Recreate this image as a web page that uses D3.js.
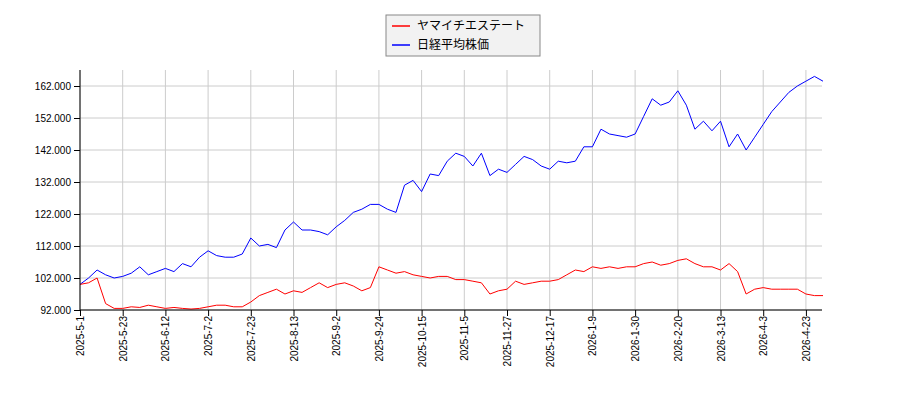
<!DOCTYPE html>
<html><head><meta charset="utf-8">
<script src="https://cdn.jsdelivr.net/npm/d3@7"></script>
<style>body{margin:0;background:#fff}svg{font-family:"DejaVu Sans",sans-serif}</style>
</head><body><svg id="c" width="900" height="400"></svg>
<script>
const tickLabels=["2025-5-1","2025-5-23","2025-6-12","2025-7-2","2025-7-23","2025-8-13","2025-9-2","2025-9-24","2025-10-15","2025-11-5","2025-11-27","2025-12-17","2026-1-9","2026-1-30","2026-2-20","2026-3-13","2026-4-3","2026-4-23"];
const nikkei=[100000,102000,104500,103000,102000, 102500,103500,105500,103000,104000, 105000,104000,106500,105500,108500, 110500,109000,108500,108500,109500, 114500,112000,112500,111500,117000, 119500,117000,117000,116500,115500, 118000,120000,122500,123500,125000, 125000,123500,122500,131000,132500, 129000,134500,134000,138500,141000, 140000,137000,141000,134000,136000, 135000,137500,140000,139000,137000, 136000,138500,138000,138500,143000, 143000,148500,147000,146500,146000, 147000,152500,158000,156000,157000, 160500,156000,148500,151000,148000, 151000,143000,147000,142000,146000, 150000,154000,157000,160000,162000, 163500,165000,163500];
const yamaichi=[100000,100500,102000,94000,92500, 92500,93000,92800,93500,93000, 92500,92800,92500,92300,92500, 93000,93500,93500,93000,93000, 94500,96500,97500,98500,97000, 98000,97500,99000,100500,99000, 100000,100500,99500,98000,99000, 105500,104500,103500,104000,103000, 102500,102000,102500,102500,101500, 101500,101000,100500,97000,98000, 98500,101000,100000,100500,101000, 101000,101500,103000,104500,104000, 105500,105000,105500,105000,105500, 105500,106500,107000,106000,106500, 107500,108000,106500,105500,105500, 104500,106500,104000,97000,98500, 99000,98500,98500,98500,98500, 97000,96500,96500];
const yTicks=[92000,102000,112000,122000,132000,142000,152000,162000];
const step=3, tickEvery=15;
const svg=d3.select("#c");
const L=80,R=822,T=70,B=310;
const x=d3.scaleLinear().domain([0,261]).range([L,823]);
const y=d3.scaleLinear().domain([92000,167000]).range([B,T]);
const g=svg.append("g");
const fmt=v=>d3.format(",.0f")(v).replace(/,/g,".");
g.selectAll(".gy").data(yTicks).join("line").attr("x1",L).attr("x2",R).attr("y1",d=>y(d)).attr("y2",d=>y(d)).attr("stroke","#ccc");
g.selectAll(".gx").data(tickLabels).join("line").attr("x1",(d,i)=>x(i*tickEvery)).attr("x2",(d,i)=>x(i*tickEvery)).attr("y1",T).attr("y2",B).attr("stroke","#ccc");
const line=d3.line().x((d,i)=>x(i*step)).y(d=>y(d));
g.append("path").datum(nikkei).attr("d",line).attr("fill","none").attr("stroke","#0000ff").attr("stroke-width",1);
g.append("path").datum(yamaichi).attr("d",line).attr("fill","none").attr("stroke","#ff0000").attr("stroke-width",1);
const ya=svg.append("g").attr("transform",`translate(${L},0)`).call(d3.axisLeft(y).tickValues(yTicks).tickFormat(fmt).tickSizeOuter(0));
ya.select(".domain").attr("d",`M0,${T}V${B}`);
ya.selectAll("text").attr("font-size",10).attr("fill","#000");
const xa=svg.append("g").attr("transform",`translate(0,${B})`).call(d3.axisBottom(x).tickValues(tickLabels.map((d,i)=>i*tickEvery)).tickFormat((d,i)=>tickLabels[i]).tickSizeOuter(0));
xa.select(".domain").attr("d",`M${L},0H${R}`);
xa.selectAll("text").attr("font-size",10).attr("fill","#000").attr("transform","rotate(-90)").attr("text-anchor","end").attr("x",-6).attr("y",0).attr("dy","0.35em");
const lg=svg.append("g");
lg.append("rect").attr("x",386).attr("y",15).attr("width",154).attr("height",41).attr("fill","#f2f2f2").attr("stroke","#888");
[["ヤマイチエステート","#ff0000",26],["日経平均株価","#0000ff",45]].forEach(([t,c,yy])=>{
 lg.append("line").attr("x1",392).attr("x2",410).attr("y1",yy).attr("y2",yy).attr("stroke",c).attr("stroke-width",1.5);
 lg.append("text").attr("x",417).attr("y",yy+4).attr("font-size",12).attr("font-family","'Noto Sans CJK JP',sans-serif").text(t);
});
</script></body></html>
